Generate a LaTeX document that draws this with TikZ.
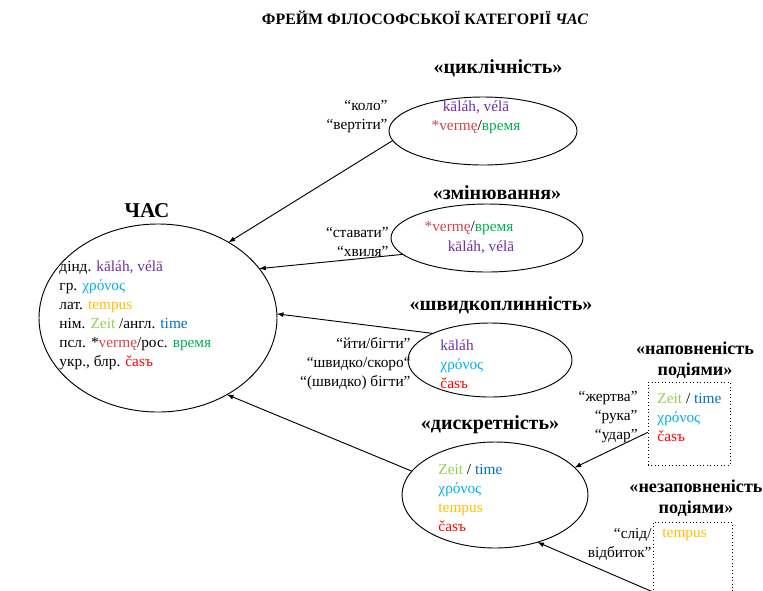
\documentclass[tikz,border=0pt]{standalone}
\usepackage{fontspec}
\setmainfont{Liberation Serif}
\usetikzlibrary{shapes.geometric}

\definecolor{skt}{HTML}{7030A0}
\definecolor{grk}{HTML}{00B0F0}
\definecolor{lat}{HTML}{FFC000}
\definecolor{ger}{HTML}{92D050}
\definecolor{eng}{HTML}{0070C0}
\definecolor{psl}{HTML}{D2464A}
\definecolor{rus}{HTML}{00B050}
\definecolor{ukr}{HTML}{FF0000}

\begin{document}
\begin{tikzpicture}[x=0.75pt,y=-0.75pt,>=latex,line width=0.7pt,
  oval/.style={draw,ellipse,inner sep=0pt,outer sep=0pt},
  frame/.style={draw,dotted,line width=0.6pt,inner sep=0pt,outer sep=0pt},
  words/.style={align=left,inner sep=0pt,font=\fontsize{11.5}{14.25}\selectfont},
  gloss/.style={align=right,inner sep=0pt,anchor=east,font=\fontsize{11.5}{14.25}\selectfont},
  facet/.style={align=center,inner sep=0pt,font=\fontsize{15}{15.75}\selectfont\bfseries},
  boxfacet/.style={facet,font=\fontsize{13.6}{15.75}\selectfont\bfseries}]
\useasboundingbox (0,0) rectangle (763,590);

\node[inner sep=0pt,font=\fontsize{11.9}{13}\selectfont\bfseries] (title) at (425,18) {ФРЕЙМ ФІЛОСОФСЬКОЇ КАТЕГОРІЇ \textit{ЧАС}};

% central frame
\node[inner sep=0pt,font=\fontsize{15.8}{17}\selectfont\bfseries] (chas_t) at (147,211) {ЧАС};
\node[oval,minimum width=178.5pt,minimum height=141pt] (chas) at (158,318) {};
\node[words,anchor=west] (chas_w) at (59,315) {дінд. \textcolor{skt}{kāláh, vélā}\\
  гр. \textcolor{grk}{χρόνος}\\
  лат. \textcolor{lat}{tempus}\\
  нім. \textcolor{ger}{Zeit} /англ. \textcolor{eng}{time}\\
  псл. *\textcolor{psl}{vermę}/рос. \textcolor{rus}{время}\\
  укр., блр. \textcolor{ukr}{časъ}};

% cyclicity
\node[facet] (cycl_t) at (498,68) {«циклічність»};
\node[oval,minimum width=141pt,minimum height=51pt] (cycl) at (483,131) {};
\node[words,align=center] (cycl_w) at (476,117) {\textcolor{skt}{kāláh, vélā}\\
  \textcolor{psl}{*vermę}/\textcolor{rus}{время}};
\node[gloss] (cycl_g) at (388,117) {“коло”\\“вертіти”};

% change
\node[facet] (zmin_t) at (497,193) {«змінювання»};
\node[oval,minimum width=144pt,minimum height=51pt] (zmin) at (487,238) {};
\node[words] (zmin_w1) at (469,228) {\textcolor{psl}{*vermę}/\textcolor{rus}{время}};
\node[words] (zmin_w2) at (481,247) {\textcolor{skt}{kāláh, vélā}};
\node[gloss] (zmin_g) at (389,242) {“ставати”\\“хвиля”};

% transience
\node[facet] (shvyd_t) at (501,305) {«швидкоплинність»};
\node[oval,minimum width=123pt,minimum height=55.5pt] (shvyd) at (490,360) {};
\node[words,anchor=west] (shvyd_w) at (440,364) {\textcolor{skt}{kāláh}\\
  \textcolor{grk}{χρόνος}\\
  \textcolor{ukr}{časъ}};
\node[gloss] (shvyd_g) at (411,364) {“йти/бігти”\\“швидко/скоро“\\“(швидко) бігти”};

% discreteness
\node[facet] (dyskr_t) at (490,425) {«дискретність»};
\node[oval,minimum width=139.5pt,minimum height=79.5pt] (dyskr) at (495,495) {};
\node[words,anchor=west] (dyskr_w) at (438,498) {\textcolor{ger}{Zeit} / \textcolor{eng}{time}\\
  \textcolor{grk}{χρόνος}\\
  \textcolor{lat}{tempus}\\
  \textcolor{ukr}{časъ}};

% filled with events
\node[boxfacet] (napov_t) at (695,360) {«наповненість\\подіями»};
\node[frame,minimum width=61.5pt,minimum height=62.25pt] (napov) at (689,423.5) {};
\node[words,anchor=west] (napov_w) at (657,417) {\textcolor{ger}{Zeit} / \textcolor{eng}{time}\\
  \textcolor{grk}{χρόνος}\\
  \textcolor{ukr}{časъ}};
\node[gloss] (napov_g) at (638,417) {“жертва”\\“рука”\\“удар”};

% not filled with events
\node[boxfacet] (nezap_t) at (696,498) {«незаповненість\\подіями»};
\node[frame,minimum width=59.25pt,minimum height=52.5pt] (nezap) at (692.5,557) {};
\node[words,anchor=west] (nezap_w) at (662,535) {\textcolor{lat}{tempus}};
\node[gloss] (nezap_g) at (652,544) {“слід/\\відбиток”};

\path[->]
(cycl.186) edge (chas.47)
(zmin.191) edge (chas.26)
(shvyd.155) edge (chas.2)
(dyskr.164) edge (chas.312)
(napov.192) edge (dyskr.19)
(nezap.south west) edge (dyskr.312)
; %end path
\end{tikzpicture}
\end{document}
